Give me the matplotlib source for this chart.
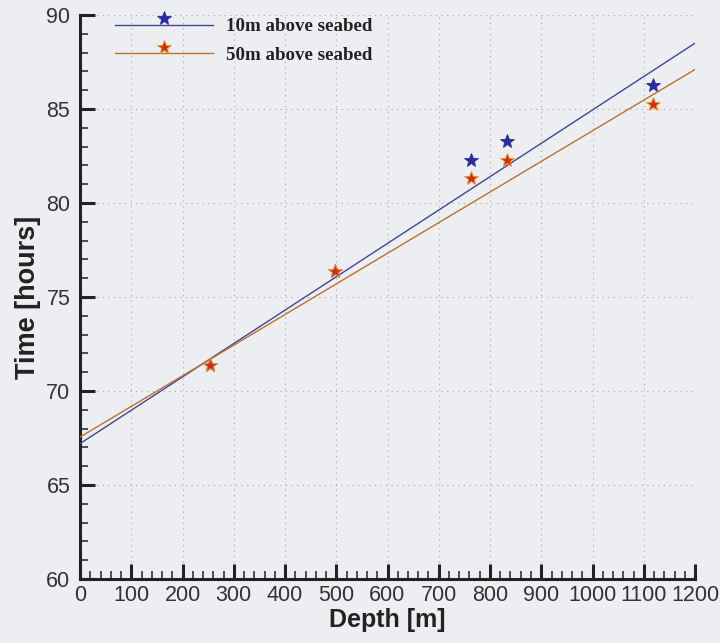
import matplotlib
matplotlib.use("Agg")
import matplotlib.pyplot as plt
from matplotlib.lines import Line2D
from matplotlib.legend_handler import HandlerLine2DCompound
from matplotlib.ticker import MultipleLocator

# ---- data ----
depth = [253, 497, 762, 833, 1118]
time_10m = [71.4, 76.4, 82.3, 83.3, 86.3]
time_50m = [71.4, 76.4, 81.35, 82.3, 85.25]
fit_depth = [0, 1200]
fit_10m = [67.2, 88.5]
fit_50m = [67.55, 87.1]
labels = ["10m above seabed", "50m above seabed"]

BG = "#eceef2"
C10_LINE = "#44449a"
C10_MARK = "#2c2ca0"
C50_LINE = "#b8742c"
C50_MARK = "#d42a1c"
C50_EDGE = "#e2a030"


class RaisedMarker(HandlerLine2DCompound):
    def create_artists(self, legend, orig_handle, xdescent, ydescent,
                       width, height, fontsize, trans):
        legline, legmark = super().create_artists(
            legend, orig_handle, xdescent, ydescent, width, height,
            fontsize, trans)
        legmark.set_ydata([y + height * 0.5 for y in legmark.get_ydata()])
        return [legline, legmark]


fig = plt.figure(figsize=(7.2, 6.43), dpi=100, facecolor=BG)
ax = fig.add_axes([80 / 720, 1 - 579 / 643, 615 / 720, 564 / 643])
ax.set_facecolor(BG)

ax.plot(fit_depth, fit_10m, color=C10_LINE, lw=1.0, zorder=3)
ax.plot(fit_depth, fit_50m, color=C50_LINE, lw=1.0, zorder=3)
ax.plot(depth, time_10m, ls="none", marker="*", ms=10.5, color=C10_MARK,
        mec=C10_MARK, mew=0.6, zorder=4)
ax.plot(depth, time_50m, ls="none", marker="*", ms=10.5, color=C50_MARK,
        mec=C50_EDGE, mew=0.7, zorder=5)

ax.set_xlim(0, 1200)
ax.set_ylim(60, 90)
ax.xaxis.set_major_locator(MultipleLocator(100))
ax.xaxis.set_minor_locator(MultipleLocator(20))
ax.yaxis.set_major_locator(MultipleLocator(5))
ax.yaxis.set_minor_locator(MultipleLocator(1))

for s in ("top", "right"):
    ax.spines[s].set_visible(False)
for s in ("left", "bottom"):
    ax.spines[s].set_linewidth(2.2)
    ax.spines[s].set_color("#222222")

ax.tick_params(which="major", direction="in", length=10.5, width=2.2,
               color="#222222", labelsize=15.5)
ax.tick_params(which="minor", direction="in", length=5.5, width=1.1,
               color="#222222")
ax.tick_params(axis="x", which="major", pad=4)
ax.tick_params(axis="y", which="major", pad=7)
for lab in ax.get_xticklabels() + ax.get_yticklabels():
    lab.set_family("Liberation Sans")
    lab.set_color("#333333")

ax.grid(True, which="major", ls=(0, (1, 4)), color="#a8a8a8", lw=0.8)
ax.set_axisbelow(True)

ax.set_xlabel("Depth [m]", fontsize=18, fontweight="bold",
              family="Liberation Sans", color="#222222", labelpad=2)
ax.set_ylabel("Time [hours]", fontsize=19.5, fontweight="bold",
              family="Liberation Sans", color="#222222", labelpad=4)

h10 = Line2D([], [], color=C10_LINE, lw=1.0, marker="*", ms=10.5,
             mfc=C10_MARK, mec=C10_MARK, mew=0.6)
h50 = Line2D([], [], color=C50_LINE, lw=1.0, marker="*", ms=10.5,
             mfc=C50_MARK, mec=C50_EDGE, mew=0.7)
leg = ax.legend([h10, h50], labels, loc="upper left",
                bbox_to_anchor=(0.035, 1.018), frameon=False,
                handler_map={Line2D: RaisedMarker()},
                handlelength=5.2, handletextpad=0.7, labelspacing=0.6,
                prop={"family": "Liberation Serif", "weight": "bold",
                      "size": 13.6}, borderaxespad=0.3)
for t in leg.get_texts():
    t.set_color("#222222")

fig.savefig("out.png", dpi=100, facecolor=BG)
